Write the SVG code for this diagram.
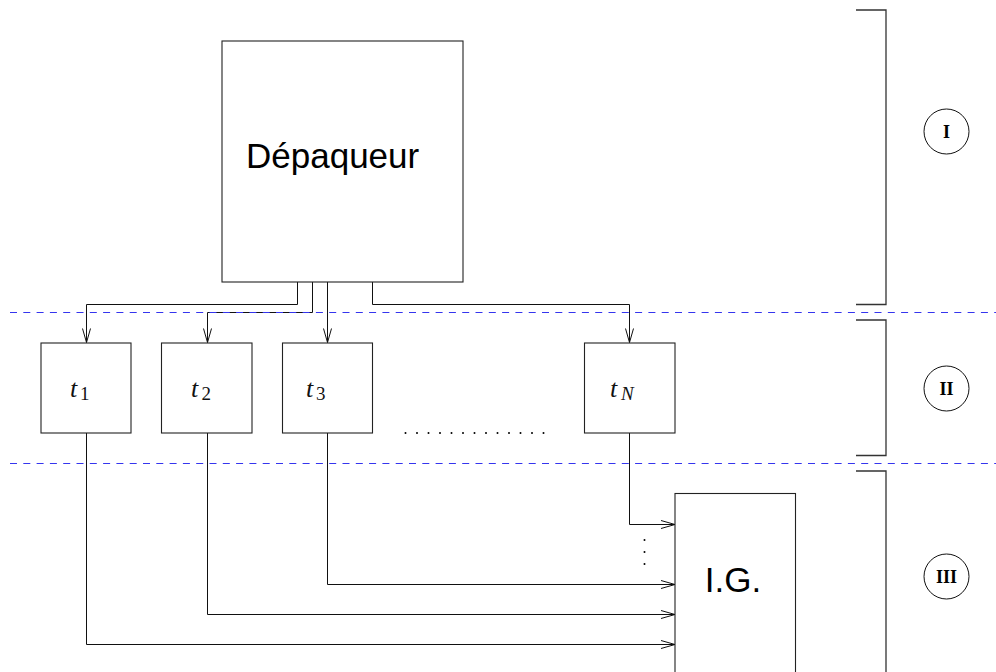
<svg xmlns="http://www.w3.org/2000/svg" width="996" height="672" viewBox="0 0 996 672">
<style>
.box{fill:#fff;stroke:#222;stroke-width:1.1}
.ln{fill:none;stroke:#111;stroke-width:1}
.br{fill:none;stroke:#333;stroke-width:1.3}
.dash{stroke:#3535ee;stroke-width:1.2;stroke-dasharray:7 6.3}
.big{font-family:"Liberation Sans",Arial,sans-serif;font-size:35px;fill:#000}
.t{font-family:"Liberation Serif","Times New Roman",serif;font-style:italic;font-size:26px;fill:#111}
.sub{font-family:"Liberation Serif","Times New Roman",serif;font-size:19px;fill:#111}
.subi{font-family:"Liberation Serif","Times New Roman",serif;font-style:italic;font-size:19px;fill:#111}
.rom{font-family:"Liberation Serif","Times New Roman",serif;font-weight:bold;font-size:18px;fill:#000}
.circ{fill:#fff;stroke:#111;stroke-width:1}
.dot{fill:#000}
</style>
<defs>
<marker id="arr" markerUnits="userSpaceOnUse" markerWidth="16" markerHeight="10" refX="14" refY="4" orient="auto" overflow="visible">
<path d="M0,0 L14,4 L0,8" fill="none" stroke="#111" stroke-width="1"/>
</marker>
</defs>

<g id="connectors">
<path class="ln" d="M297.5,282 V304.5 H86.5 V342.5" marker-end="url(#arr)"/>
<path class="ln" d="M312.5,282 V312.5 H207.5 V342.5" marker-end="url(#arr)"/>
<path class="ln" d="M327.5,282 V342.5" marker-end="url(#arr)"/>
<path class="ln" d="M372.5,282 V304.5 H629.5 V342.5" marker-end="url(#arr)"/>
<path class="ln" d="M629.5,433 V524.5 H675" marker-end="url(#arr)"/>
<path class="ln" d="M327.5,433 V584.5 H675" marker-end="url(#arr)"/>
<path class="ln" d="M207.5,433 V614.5 H675" marker-end="url(#arr)"/>
<path class="ln" d="M86.5,433 V644.5 H675" marker-end="url(#arr)"/>
</g>

<g id="separators">
<line class="dash" x1="10" y1="312.5" x2="996" y2="312.5"/>
<line class="dash" x1="10" y1="463.5" x2="996" y2="463.5"/>
</g>

<g id="depaqueur">
<rect class="box" x="222" y="41" width="241" height="241"/>
<text class="big" x="246" y="168">Dépaqueur</text>
</g>

<g id="t1">
<rect class="box" x="41" y="343" width="90" height="90"/>
<text x="70" y="397"><tspan class="t">t</tspan><tspan class="sub" x="80" y="400">1</tspan></text>
</g>
<g id="t2">
<rect class="box" x="161.5" y="343" width="90.5" height="90"/>
<text x="191" y="397"><tspan class="t">t</tspan><tspan class="sub" x="201.5" y="400">2</tspan></text>
</g>
<g id="t3">
<rect class="box" x="282.5" y="343" width="90" height="90"/>
<text x="306" y="397"><tspan class="t">t</tspan><tspan class="sub" x="316" y="400">3</tspan></text>
</g>
<g id="tN">
<rect class="box" x="584.5" y="343" width="90.5" height="90"/>
<text x="610" y="397"><tspan class="t">t</tspan><tspan class="subi" x="621" y="400">N</tspan></text>
</g>

<g id="dots-h">
<circle class="dot" cx="405.5" cy="433" r="1"/>
<circle class="dot" cx="417" cy="433" r="1"/>
<circle class="dot" cx="428.5" cy="433" r="1"/>
<circle class="dot" cx="440" cy="433" r="1"/>
<circle class="dot" cx="451.5" cy="433" r="1"/>
<circle class="dot" cx="463" cy="433" r="1"/>
<circle class="dot" cx="474.5" cy="433" r="1"/>
<circle class="dot" cx="486" cy="433" r="1"/>
<circle class="dot" cx="497.5" cy="433" r="1"/>
<circle class="dot" cx="509" cy="433" r="1"/>
<circle class="dot" cx="520.5" cy="433" r="1"/>
<circle class="dot" cx="532" cy="433" r="1"/>
<circle class="dot" cx="543.5" cy="433" r="1"/>
</g>

<g id="dots-v">
<circle class="dot" cx="644.5" cy="540" r="1"/>
<circle class="dot" cx="644.5" cy="552" r="1"/>
<circle class="dot" cx="644.5" cy="564" r="1"/>
</g>

<g id="ig">
<rect class="box" x="675" y="493.5" width="120.5" height="190"/>
<text class="big" x="733" y="592" text-anchor="middle">I.G.</text>
</g>

<g id="brackets">
<path class="br" d="M856,10 H886 V304.5 H856"/>
<path class="br" d="M856,320 H886 V455.5 H856"/>
<path class="br" d="M856,471 H886 V672"/>
</g>

<g id="label-I">
<circle class="circ" cx="946.5" cy="131.5" r="22.5"/>
<text class="rom" x="946.5" y="137.5" text-anchor="middle">I</text>
</g>
<g id="label-II">
<circle class="circ" cx="946.5" cy="388.5" r="22.5"/>
<text class="rom" x="946.5" y="394.5" text-anchor="middle">II</text>
</g>
<g id="label-III">
<circle class="circ" cx="946.5" cy="576.5" r="22.5"/>
<text class="rom" x="946.5" y="582.5" text-anchor="middle">III</text>
</g>
</svg>
